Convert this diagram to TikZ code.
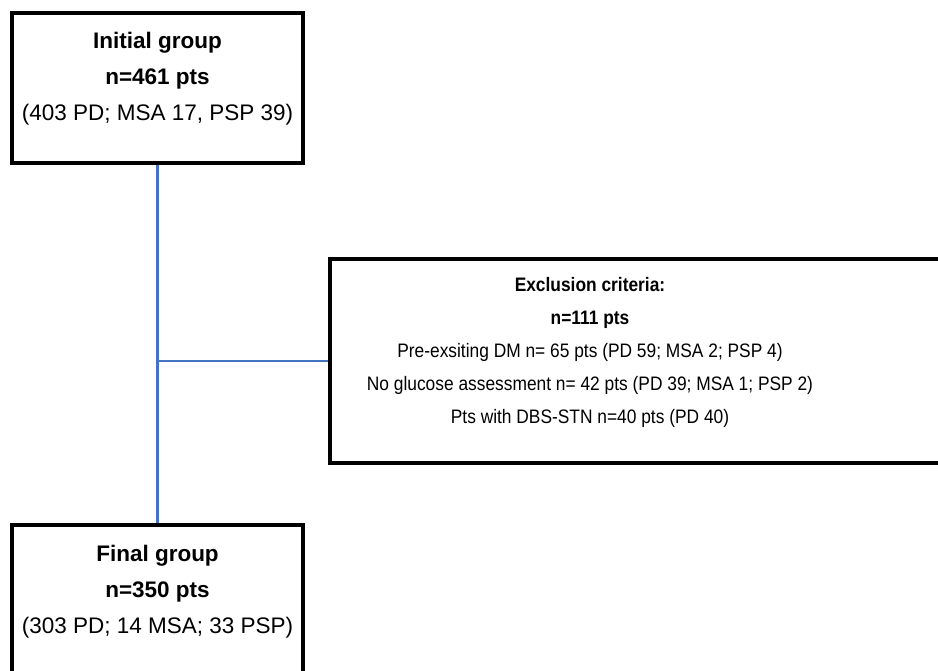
\documentclass[tikz,border=0pt]{standalone}
\usepackage{fontspec}
\setmainfont{Liberation Sans}
\newfontfamily\narrowsans[FakeStretch=0.89]{Liberation Sans}
\definecolor{linkblue}{RGB}{68,114,196}

\begin{document}
\begin{tikzpicture}[x=1pt,y=-1pt,
  grpbox/.style={draw,line width=3.2pt,minimum width=291pt,inner sep=0pt},
  grptext/.style={align=center,font=\fontsize{22.5}{36}\selectfont},
  exctext/.style={align=center,font=\narrowsans\fontsize{19.5}{33}\selectfont},
  link/.style={draw=linkblue,line width=2.6pt}]
\useasboundingbox (0,0) rectangle (938,671);

% boxes
\node[grpbox,minimum height=150pt] (init) at (157.5,88) {};
\node[grpbox,minimum height=160pt] (final) at (157.5,605) {};
\node[grpbox,minimum width=620pt,minimum height=204pt] (excl) at (640,361) {};

% links
\coordinate (junc) at (157.5,361);
\draw[link] (init) -- (final);
\draw[link] (junc) -- (excl);

% texts
\node[grptext] (inittxt) at (157.5,79) {\textbf{Initial group}\\\textbf{n=461 pts}\\(403 PD; MSA 17, PSP 39)};
\node[grptext] (finaltxt) at (157.5,592) {\textbf{Final group}\\\textbf{n=350 pts}\\(303 PD; 14 MSA; 33 PSP)};
\node[exctext] (excltxt) at (590,352) {\textbf{Exclusion criteria:}\\\textbf{n=111 pts}\\Pre-exsiting DM n= 65 pts (PD 59; MSA 2; PSP 4)\\No glucose assessment n= 42 pts (PD 39; MSA 1; PSP 2)\\Pts with DBS-STN n=40 pts (PD 40)};
\end{tikzpicture}
\end{document}
